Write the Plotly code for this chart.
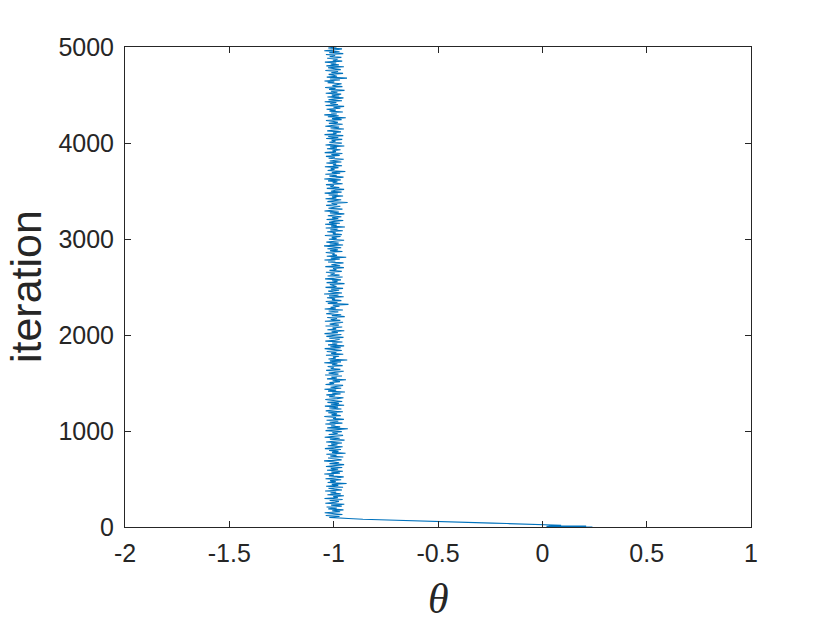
import numpy as np
import plotly.graph_objs as go

# burn-in: first ~100 iterations
burn_iter = [0, 1, 2, 3, 4, 5, 6, 7, 8, 9, 10, 11, 12, 13, 14, 16, 18, 20, 22, 24,
             26, 28, 30, 33, 36, 40, 50, 60, 70, 80, 88, 94, 100]
burn_theta = [0.24, 0.04, 0.22, 0.03, 0.20, 0.06, 0.23, 0.02, 0.18, 0.05, 0.21, 0.03,
              0.16, 0.04, 0.12, 0.06, 0.09, 0.04, 0.05, 0.02, 0.01, -0.03, -0.07,
              -0.12, -0.17, -0.24, -0.42, -0.60, -0.76, -0.86, -0.93, -0.96, -1.00]

# chain after burn-in (iterations 100 .. 5000)
chain_theta = [
    -1.021, -0.972, -1.038, -0.958, -0.996, -1.043, -0.969, -1.007, -0.953, -1.026,
    -0.985, -1.034, -0.961, -1.012, -0.949, -1.040, -0.991, -0.975, -1.019, -0.957,
    -1.044, -0.980, -1.002, -0.951, -1.030, -0.966, -1.015, -0.988, -1.041, -0.960,
    -0.997, -1.025, -0.955, -1.036, -0.978, -1.009, -0.938, -1.029, -0.990, -1.017,
    -0.964, -1.039, -0.983, -0.952, -1.023, -0.999, -1.045, -0.970, -1.011, -0.956,
    -1.032, -0.979, -1.014, -0.959, -1.037, -0.993, -0.950, -1.020, -0.974, -1.004,
    -1.046, -0.962, -0.995, -1.027, -0.954, -1.016, -0.986, -1.035, -0.943, -1.008,
    -0.977, -1.022, -0.965, -1.042, -0.994, -0.957, -1.028, -0.982, -1.012, -0.960,
    -1.036, -0.990, -0.948, -1.018, -0.971, -1.043, -1.001, -0.955, -1.024, -0.981,
    -1.006, -0.961, -1.039, -0.987, -0.932, -1.031, -0.969, -1.013, -0.992, -1.040,
    -0.958, -1.019, -0.978, -1.034, -0.951, -1.003, -0.989, -1.045, -0.966, -1.010,
    -0.984, -1.026, -0.956, -1.038, -0.996, -0.963, -1.021, -0.979, -1.042, -0.950,
    -1.013, -0.975, -1.030, -0.959, -1.002, -1.040, -0.983, -0.953, -1.022, -0.993,
    -1.035, -0.967, -1.007, -0.946, -1.027, -0.988, -1.044, -0.964, -1.015, -0.980,
    -0.955, -1.039, -0.998, -1.020, -0.970, -1.005, -0.941, -1.032, -0.985, -1.011,
    -0.960, -1.041, -0.977, -1.024, -0.994, -0.952, -1.036, -0.968, -1.014, -1.000,
    -1.029, -0.957, -1.008, -0.982, -1.045, -0.965, -1.018, -0.935, -1.025, -0.990,
    -1.003, -0.974, -1.037, -0.954, -1.012, -0.987, -1.033, -0.961, -0.997, -1.043,
    -0.966, -1.016, -0.950, -1.027, -0.983, -1.007, -0.958, -1.040, -0.992, -0.971,
    -1.021, -0.953, -1.035, -0.999, -0.963, -1.044, -0.980, -1.010, -0.949, -1.030,
    -0.988, -1.005, -0.959, -1.039, -0.975, -1.019, -0.994, -0.955, -1.042, -0.968,
    -1.014, -0.984, -1.031, -0.947, -1.009, -0.964, -1.036, -0.997, -0.978, -1.024,
    -0.956, -1.043, -0.990, -1.015, -0.972, -1.004, -0.929, -1.028, -0.982, -1.038,
    -0.963, -1.008, -0.993, -1.032, -0.952, -1.022, -0.977, -1.046, -0.960, -1.001,
    -1.026, -0.974, -1.012, -0.955, -1.039, -0.986, -0.999, -1.018, -0.948, -1.034,
    -0.981, -1.007, -0.965, -1.041, -0.991, -0.957, -1.029, -0.972, -1.015, -0.995,
    -1.037, -0.961, -1.020, -0.987, -1.003, -0.951, -1.040, -0.969, -1.011, -0.979,
    -0.953, -1.027, -0.992, -1.044, -0.971, -1.014, -0.940, -1.033, -0.984, -1.006,
    -0.996, -1.038, -0.958, -1.017, -0.980, -1.030, -0.964, -1.000, -1.046, -0.955,
    -1.019, -0.976, -1.035, -0.994, -0.950, -1.023, -0.986, -1.009, -0.967, -1.042,
    -0.961, -1.004, -0.990, -1.031, -0.956, -1.016, -0.981, -1.038, -0.946, -1.012,
    -0.985, -1.041, -0.970, -1.022, -0.998, -0.954, -1.034, -0.978, -1.007, -0.963,
    -1.028, -0.993, -0.949, -1.018, -0.975, -1.044, -0.989, -0.958, -1.025, -1.001,
    -0.968, -1.036, -0.983, -1.010, -0.933, -1.030, -0.995, -0.964, -1.039, -0.987,
    -1.008, -0.955, -1.024, -0.980, -1.043, -0.962, -1.013, -0.992, -0.950, -1.033,
    -0.973, -1.016, -0.999, -1.037, -0.957, -1.005, -0.982, -1.027, -0.966, -1.045,
    -0.990, -0.953, -1.020, -0.985, -1.040, -0.969, -1.009, -0.944, -1.029, -0.996,
    -1.014, -0.977, -1.042, -0.960, -1.002, -0.988, -1.035, -0.963, -1.019, -0.981,
    -0.952, -1.024, -0.994, -1.037, -0.971, -1.011, -0.958, -1.043, -0.989, -1.006,
    -0.967, -1.032, -0.984, -1.017, -0.949, -1.039, -0.997, -0.961, -1.021, -0.991,
    -1.010, -0.959, -1.036, -0.978, -1.026, -0.954, -1.044, -0.986, -1.003, -0.965,
    -1.031, -0.988, -0.951, -1.015, -0.974, -1.040, -0.993, -0.957, -1.023, -0.980,
    -0.999, -1.037, -0.962, -1.008, -0.942, -1.028, -0.976, -1.045, -0.985, -1.012,
    -0.956, -1.020, -0.990, -1.034, -0.968, -1.001, -0.950, -1.039, -0.979, -1.016,
    -0.987, -1.043, -0.960, -1.025, -0.995, -0.953, -1.030, -0.973, -1.009, -0.964,
    -1.038, -0.982, -1.013, -0.948, -1.022, -0.991, -1.041, -0.958, -1.006, -0.977,
    -0.962, -1.029, -0.997, -1.044, -0.970, -1.018, -0.936, -1.033, -0.984, -1.002,
    -1.024, -0.955, -1.011, -0.979, -1.040, -0.966, -0.994, -1.027, -0.951, -1.035,
    -0.975, -1.014, -0.988, -1.042, -0.959, -1.004, -0.981, -1.031, -0.963, -1.019,
    -0.993, -1.037, -0.954, -1.021, -0.972, -1.045, -0.998, -0.960, -1.026, -0.986,
]
chain_iter = np.linspace(100, 5000, len(chain_theta))

x_ticks = [-2, -1.5, -1, -0.5, 0, 0.5, 1]
x_ticktext = ['-2', '-1.5', '-1', '-0.5', '0', '0.5', '1']
y_ticks = [0, 1000, 2000, 3000, 4000, 5000]

theta = burn_theta + chain_theta
iters = list(burn_iter) + list(chain_iter)

ink = '#262626'
sans = 'Liberation Sans, Arial, Helvetica, sans-serif'
font = dict(family=sans, size=25, color=ink)

trace = go.Scatter(x=theta, y=iters, mode='lines',
                   line=dict(color='#0072BD', width=1.1), hoverinfo='skip')

axis_style = dict(showline=True, linecolor=ink, linewidth=1, mirror='ticks',
                  ticks='inside', ticklen=6, tickwidth=1, tickcolor=ink,
                  showgrid=False, zeroline=False, tickfont=font)

# page body has an 8px margin, so the figure is 8px smaller than the window
layout = go.Layout(
    width=822, height=615,
    margin=dict(l=117, r=79, t=39, b=96),
    paper_bgcolor='white', plot_bgcolor='white',
    showlegend=False,
    xaxis=dict(range=[-2, 1], tickvals=x_ticks, ticktext=x_ticktext,
               ticklabelstandoff=4, **axis_style),
    yaxis=dict(range=[0, 5000], tickvals=y_ticks, ticklabelstandoff=5, **axis_style),
    annotations=[
        dict(text='<i>θ</i>', xref='paper', yref='paper', x=0.5, y=-0.15,
             showarrow=False, xanchor='center', yanchor='middle',
             font=dict(family='Liberation Serif, Times New Roman, serif', size=42, color=ink)),
        dict(text='iteration', xref='paper', yref='paper', x=-0.158, y=0.5,
             showarrow=False, xanchor='center', yanchor='middle', textangle=-90,
             font=dict(family=sans, size=43, color=ink)),
    ],
)

fig = go.Figure(data=[trace], layout=layout)
fig.write_html("out.html")
